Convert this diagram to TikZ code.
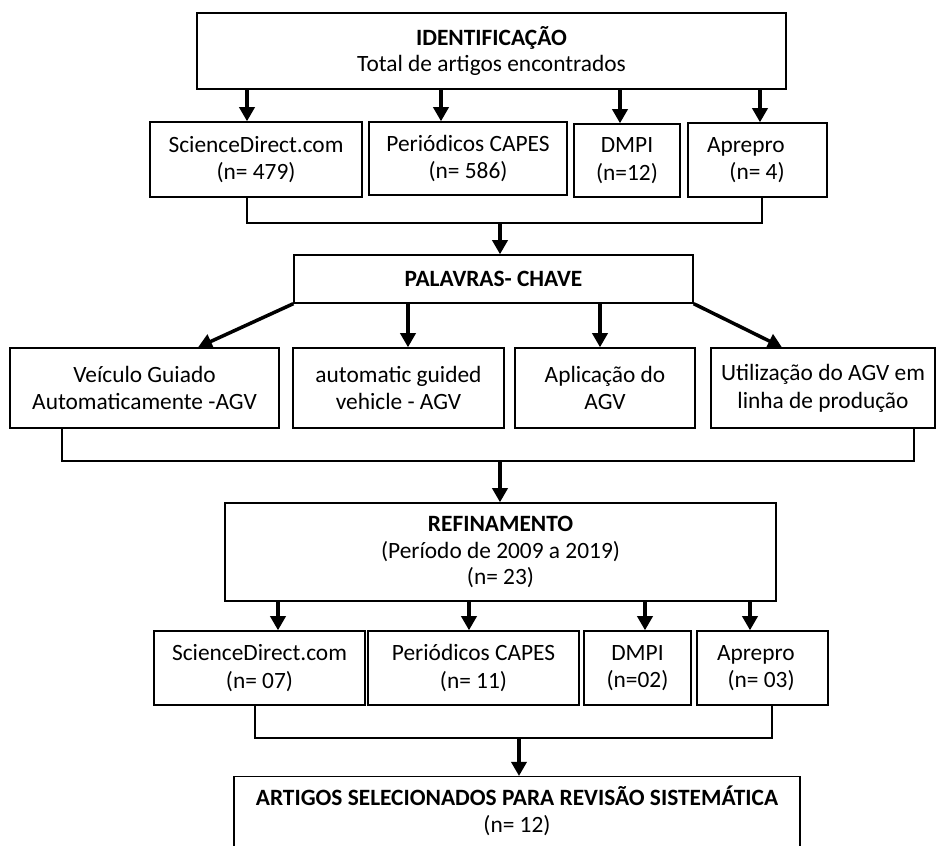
\documentclass[tikz,border=0pt]{standalone}
\usepackage{fontspec}
\setmainfont{Carlito}
\usetikzlibrary{arrows.meta}

\begin{document}
\begin{tikzpicture}[x=0.2mm,y=-0.2mm,->,>={Triangle[width=8.5pt,length=8pt]},
  main box/.style={draw,line width=0.8pt,align=center,inner sep=1pt,font=\fontsize{13.3}{15.8}\selectfont},
  head box/.style={main box,font=\fontsize{13.3}{15}\selectfont},
  side text/.style={align=right,inner sep=0pt,font=\fontsize{13.3}{15.8}\selectfont},
  flow/.style={line width=2pt},
  bracket line/.style={-,line width=0.8pt}]

  \useasboundingbox (0,0) rectangle (942,845);

  % identificacao
  \node[head box,minimum width=117.8mm,minimum height=15.2mm] (ident) at (491.5,51) {\textbf{IDENTIFICAÇÃO}\\Total de artigos encontrados};
  \node[main box,minimum width=42.4mm,minimum height=15mm] (sd1) at (256,159.5) {ScienceDirect.com\\(n= 479)};
  \node[main box,minimum width=39.6mm,minimum height=14.6mm] (pc1) at (468,158.5) {Periódicos CAPES\\(n= 586)};
  \node[main box,minimum width=21.2mm,minimum height=14.6mm] (dm1) at (627,160.5) {DMPI\\(n=12)};
  \node[main box,minimum width=27.8mm,minimum height=14.8mm] (ap1) at (757.5,160) {};
  \node[side text,anchor=east] (ap1t) at (785,160) {Aprepro\\(n= 4)};

  % palavras-chave
  \node[main box,minimum width=79.8mm,minimum height=9.6mm] (pal) at (493.5,279) {\textbf{PALAVRAS- CHAVE}};
  \node[main box,minimum width=53.8mm,minimum height=16mm] (vg) at (144.5,388) {Veículo Guiado\\Automaticamente -AGV};
  \node[main box,minimum width=42.2mm,minimum height=16mm] (ag) at (398.5,388) {automatic guided\\vehicle - AGV};
  \node[main box,minimum width=36mm,minimum height=16mm] (apl) at (605,388) {Aplicação do\\AGV};
  \node[main box,minimum width=44.8mm,minimum height=16mm] (ut) at (823,388) {Utilização do AGV em\\linha de produção};

  % refinamento
  \node[head box,minimum width=110.2mm,minimum height=19.6mm] (ref) at (500.5,552) {\textbf{REFINAMENTO}\\(Período de 2009 a 2019)\\(n= 23)};
  \node[main box,minimum width=42.2mm,minimum height=14.8mm] (sd3) at (259.5,668) {ScienceDirect.com\\(n= 07)};
  \node[main box,minimum width=42.2mm,minimum height=14.8mm] (pc3) at (473.5,668) {Periódicos CAPES\\(n= 11)};
  \node[main box,minimum width=21.4mm,minimum height=14.8mm] (dm3) at (637.5,668) {DMPI\\(n=02)};
  \node[main box,minimum width=26.2mm,minimum height=14.8mm] (ap3) at (762.5,668) {};
  \node[side text,anchor=east] (ap3t) at (795,668) {Aprepro\\(n= 03)};

  \node[head box,anchor=north,minimum width=113.2mm,inner ysep=1.9mm,text depth=14mm] (final) at (517,776) {\textbf{ARTIGOS SELECIONADOS PARA REVISÃO SISTEMÁTICA}\\(n= 12)};

  % x positions of the arrows and brackets
  \coordinate (a1) at (247,0);
  \coordinate (a2) at (441,0);
  \coordinate (a3) at (620,0);
  \coordinate (a4) at (760,0);
  \coordinate (b2) at (762,0);
  \coordinate (j1) at (500,223);
  \coordinate (d1) at (198,0);
  \coordinate (d2) at (408,0);
  \coordinate (d3) at (600,0);
  \coordinate (d4) at (782,0);
  \coordinate (e1) at (62,0);
  \coordinate (e2) at (914,0);
  \coordinate (j2) at (500,461);
  \coordinate (r1) at (278,0);
  \coordinate (r2) at (469,0);
  \coordinate (r3) at (645,0);
  \coordinate (r4) at (750,0);
  \coordinate (f1) at (255,0);
  \coordinate (f2) at (772,0);
  \coordinate (j3) at (519,738);

  \path[flow]
    (ident.south -| a1) edge (sd1.north -| a1)
    (ident.south -| a2) edge (pc1.north -| a2)
    (ident.south -| a3) edge (dm1.north -| a3)
    (ident.south -| a4) edge (ap1.north -| a4)
    (j1) edge (pal.north -| j1)
    (pal.south west) edge (vg.north -| d1)
    (pal.south -| d2) edge (ag.north -| d2)
    (pal.south -| d3) edge (apl.north -| d3)
    (pal.south east) edge (ut.north -| d4)
    (j2) edge (ref.north -| j2)
    (ref.south -| r1) edge (sd3.north -| r1)
    (ref.south -| r2) edge (pc3.north -| r2)
    (ref.south -| r3) edge (dm3.north -| r3)
    (ref.south -| r4) edge (ap3.north -| r4)
    (j3) edge (final.north -| j3);

  \draw[bracket line] (sd1.south -| a1) |- (j1) -| (ap1.south -| b2);
  \draw[bracket line] (vg.south -| e1) |- (j2) -| (ut.south -| e2);
  \draw[bracket line] (sd3.south -| f1) |- (j3) -| (ap3.south -| f2);
\end{tikzpicture}
\end{document}
